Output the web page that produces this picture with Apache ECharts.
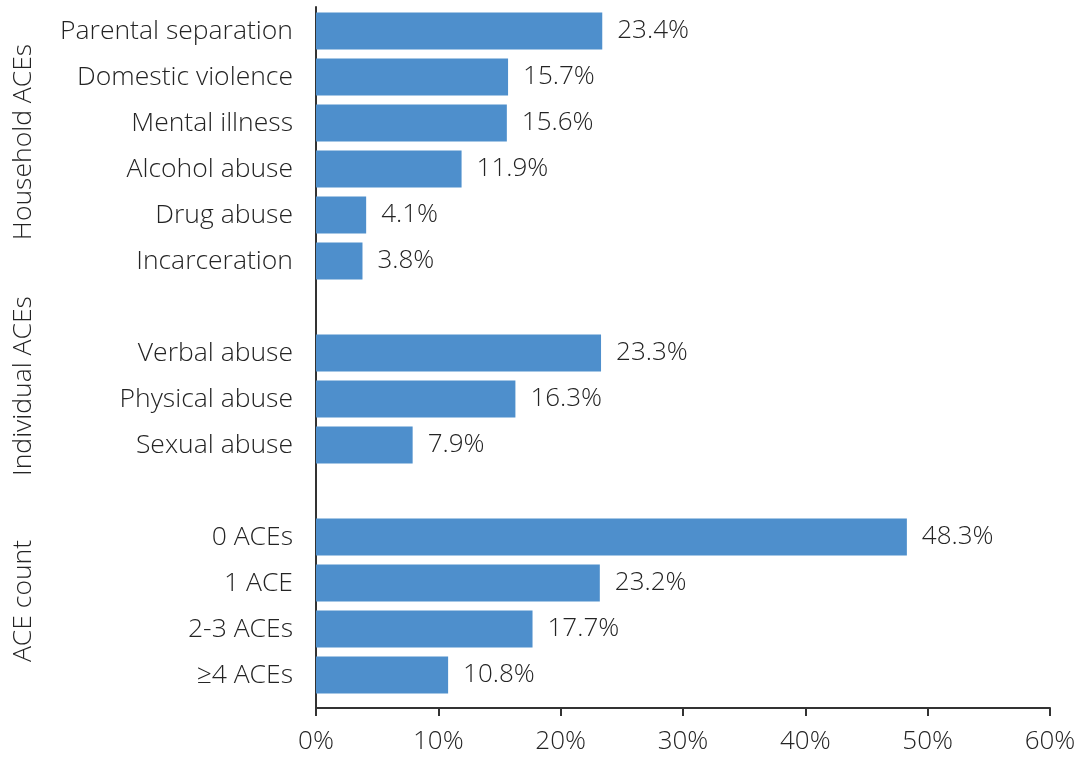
<!DOCTYPE html>
<html>
<head>
<meta charset="utf-8">
<script src="https://cdn.jsdelivr.net/npm/echarts@6/dist/echarts.min.js"></script>
<style>
  html, body { margin: 0; padding: 0; background: #ffffff; }
  #chart { width: 1086px; height: 758px; }
</style>
</head>
<body>
<div id="chart"></div>
<script>
// Row labels, top to bottom; the single/double spaces are the gaps between groups
const categories = [
  'Parental separation', 'Domestic violence', 'Mental illness', 'Alcohol abuse',
  'Drug abuse', 'Incarceration', ' ',
  'Verbal abuse', 'Physical abuse', 'Sexual abuse', '  ',
  '0 ACEs', '1 ACE', '2-3 ACEs', '\u22654 ACEs'
];
// Prevalence (%) for each row; null for the gap rows
const values = [
  23.4, 15.7, 15.6, 11.9, 4.1, 3.8, null,
  23.3, 16.3, 7.9, null,
  48.3, 23.2, 17.7, 10.8
];
// Group headings shown rotated down the left side
const groupNames = ['Household ACEs', 'Individual ACEs', 'ACE count'];
const groupCenters = [142, 386, 601];

// X axis range and step (%)
const xMin = 0, xMax = 60, xStep = 10;

const FONT = '"Open Sans", "Noto Sans", sans-serif';
const TEXT = '#242424';
const AXIS = '#333333';
const BAR = '#4e8fcc';

const chart = echarts.init(document.getElementById('chart'), null, { renderer: 'canvas' });

chart.setOption({
  backgroundColor: '#ffffff',
  animation: false,
  textStyle: { fontFamily: FONT, color: TEXT },
  grid: [
    // bars
    { left: 316, right: 36, top: 8, height: 690, containLabel: false },
    // frame: x axis with ticks + vertical axis line reaching it
    { left: 316, right: 36, top: 7, height: 701, containLabel: false }
  ],
  xAxis: [
    { gridIndex: 0, type: 'value', min: xMin, max: xMax, interval: xStep, show: false },
    {
      gridIndex: 1, type: 'value', min: xMin, max: xMax, interval: xStep,
      axisLine: { show: true, lineStyle: { color: AXIS, width: 2 } },
      axisTick: { show: true, length: 8, lineStyle: { color: AXIS, width: 2 } },
      splitLine: { show: false },
      axisLabel: {
        formatter: '{value}%', fontSize: 26, fontFamily: FONT, fontWeight: 300,
        color: TEXT, margin: 21
      }
    }
  ],
  yAxis: [
    {
      gridIndex: 0, type: 'category', data: categories, inverse: true,
      axisLine: { show: false }, axisTick: { show: false }, splitLine: { show: false },
      axisLabel: {
        fontSize: 26.5, fontFamily: FONT, fontWeight: 300, color: TEXT,
        margin: 23, padding: [0, 0, 5, 0]
      }
    },
    {
      gridIndex: 1, type: 'value', min: 0, max: 1,
      axisLine: { show: true, onZero: false, lineStyle: { color: AXIS, width: 2 } },
      axisTick: { show: false }, axisLabel: { show: false }, splitLine: { show: false }
    }
  ],
  series: [{
    type: 'bar',
    xAxisIndex: 0, yAxisIndex: 0,
    data: values,
    barCategoryGap: '20%',
    itemStyle: { color: BAR },
    label: {
      show: true, position: 'right', distance: 15,
      fontSize: 26, fontFamily: FONT, fontWeight: 300, color: TEXT,
      formatter: p => p.value.toFixed(1) + '%'
    }
  }],
  graphic: groupNames.map((name, i) => ({
    type: 'text',
    x: 23, y: groupCenters[i],
    rotation: Math.PI / 2,
    style: {
      text: name, fontSize: 26.5, fontFamily: FONT, fontWeight: 300, fill: TEXT,
      textAlign: 'center', textVerticalAlign: 'middle'
    }
  }))
});
</script>
</body>
</html>
